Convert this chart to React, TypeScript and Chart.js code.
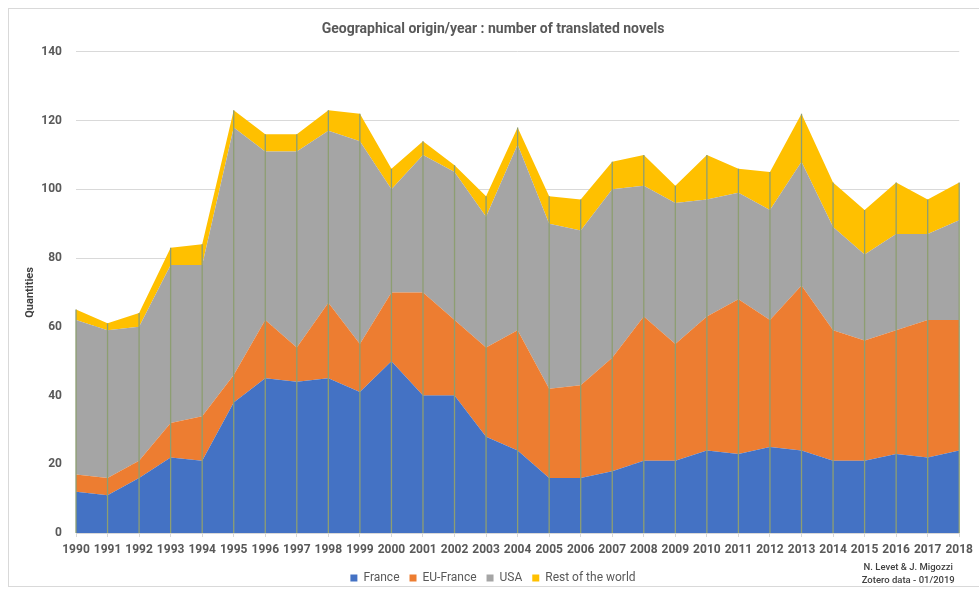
import React, { useEffect, useRef } from "react";
import { Chart, registerables } from "chart.js";

Chart.register(...registerables);

const years = [
  "1990", "1991", "1992", "1993", "1994", "1995", "1996", "1997", "1998", "1999",
  "2000", "2001", "2002", "2003", "2004", "2005", "2006", "2007", "2008", "2009",
  "2010", "2011", "2012", "2013", "2014", "2015", "2016", "2017", "2018",
];
const france = [12, 11, 16, 22, 21, 38, 45, 44, 45, 41, 50, 40, 40, 28, 24, 16, 16, 18, 21, 21, 24, 23, 25, 24, 21, 21, 23, 22, 24];
const euFrance = [5, 5, 5, 10, 13, 8, 17, 10, 22, 14, 20, 30, 22, 26, 35, 26, 27, 33, 42, 34, 39, 45, 37, 48, 38, 35, 36, 40, 38];
const usa = [45, 43, 39, 46, 44, 72, 49, 57, 50, 59, 30, 40, 43, 38, 54, 48, 45, 49, 38, 41, 34, 31, 32, 36, 30, 25, 28, 25, 29];
const restOfWorld = [3, 2, 4, 5, 6, 5, 5, 5, 6, 8, 6, 4, 2, 6, 5, 8, 9, 8, 9, 5, 13, 7, 11, 14, 13, 13, 15, 10, 11];

const seriesNames = ["France", "EU-France", "USA", "Rest of the world"];
const seriesColors = ["#4472C4", "#ED7D31", "#A5A5A5", "#FFC000"];
const titleText = "Geographical origin/year : number of translated novels";
const noteLines = ["N. Levet & J. Migozzi", "Zotero data - 01/2019"];

const FONT = "Roboto, 'Liberation Sans', Arial, sans-serif";

const frameAndDropLines = {
  id: "frameAndDropLines",
  afterDatasetsDraw(chart: any) {
    const { ctx } = chart;
    const last = chart.getDatasetMeta(chart.data.datasets.length - 1);
    const yBottom = chart.scales.y.getPixelForValue(0);
    ctx.save();
    ctx.strokeStyle = "#8D9E72";
    ctx.lineWidth = 1.3;
    last.data.forEach((pt: any) => {
      ctx.beginPath();
      ctx.moveTo(pt.x, pt.y);
      ctx.lineTo(pt.x, yBottom);
      ctx.stroke();
    });
    ctx.restore();
  },
  afterDraw(chart: any) {
    const { ctx, chartArea } = chart;
    ctx.save();
    ctx.strokeStyle = "#D9D9D9";
    ctx.lineWidth = 1;
    ctx.strokeRect(8.5, 8.5, chart.width, chart.height - 13);
    ctx.fillStyle = "#404040";
    ctx.font = `500 9.5px ${FONT}`;
    ctx.textAlign = "center";
    ctx.textBaseline = "middle";
    const cx = chartArea.right - 51;
    ctx.fillText(noteLines[0], cx, chartArea.bottom + 35);
    ctx.fillText(noteLines[1], cx, chartArea.bottom + 48);
    ctx.restore();
  },
};

export default function App() {
  const ref = useRef<HTMLCanvasElement>(null);
  useEffect(() => {
    if (!ref.current) return;
    const data = [france, euFrance, usa, restOfWorld];
    const chart = new Chart(ref.current, {
      type: "line",
      data: {
        labels: years,
        datasets: data.map((d, i) => ({
          label: seriesNames[i],
          data: d,
          backgroundColor: seriesColors[i],
          borderColor: seriesColors[i],
          borderWidth: 0,
          pointRadius: 0,
          fill: i === 0 ? "origin" : "-1",
          tension: 0,
        })),
      },
      options: {
        responsive: false,
        animation: false,
        layout: { padding: { left: 24, right: 17, top: 8, bottom: -3 } },
        plugins: {
          title: {
            display: true,
            text: titleText,
            color: "#595959",
            font: { family: FONT, size: 14, weight: "bold" },
            padding: { top: 13, bottom: 14 },
          },
          legend: {
            position: "bottom",
            labels: {
              color: "#595959",
              font: { family: FONT, size: 12 },
              boxWidth: 7,
              boxHeight: 7,
              padding: 10,
            },
          },
          tooltip: { enabled: false },
        },
        scales: {
          x: {
            type: "category",
            offset: false,
            grid: {
              display: true,
              drawOnChartArea: false,
              drawTicks: true,
              tickLength: 4,
              color: "#D9D9D9",
            },
            border: { color: "#D9D9D9" },
            ticks: {
              color: "#595959",
              font: { family: FONT, size: 12, weight: "bold" },
              padding: 6,
              maxRotation: 0,
              autoSkip: false,
            },
            afterFit(scale: any) {
              scale.height = 29;
            },
          },
          y: {
            stacked: true,
            min: 0,
            max: 140,
            ticks: {
              stepSize: 20,
              color: "#595959",
              font: { family: FONT, size: 12, weight: "bold" },
              padding: 14,
            },
            grid: { color: "#D9D9D9", drawTicks: false },
            border: { display: false },
            title: {
              display: true,
              text: "Quantities",
              color: "#404040",
              font: { family: FONT, size: 11, weight: "bold" },
              padding: 0,
            },
            afterFit(scale: any) {
              scale.width = 52;
            },
          },
        },
      },
      plugins: [frameAndDropLines],
    });
    return () => chart.destroy();
  }, []);
  return (
    <div style={{ position: "absolute", left: 0, top: 0, width: 979, height: 591, background: "#fff" }}>
      <canvas ref={ref} width={979} height={591} style={{ display: "block" }} />
    </div>
  );
}
